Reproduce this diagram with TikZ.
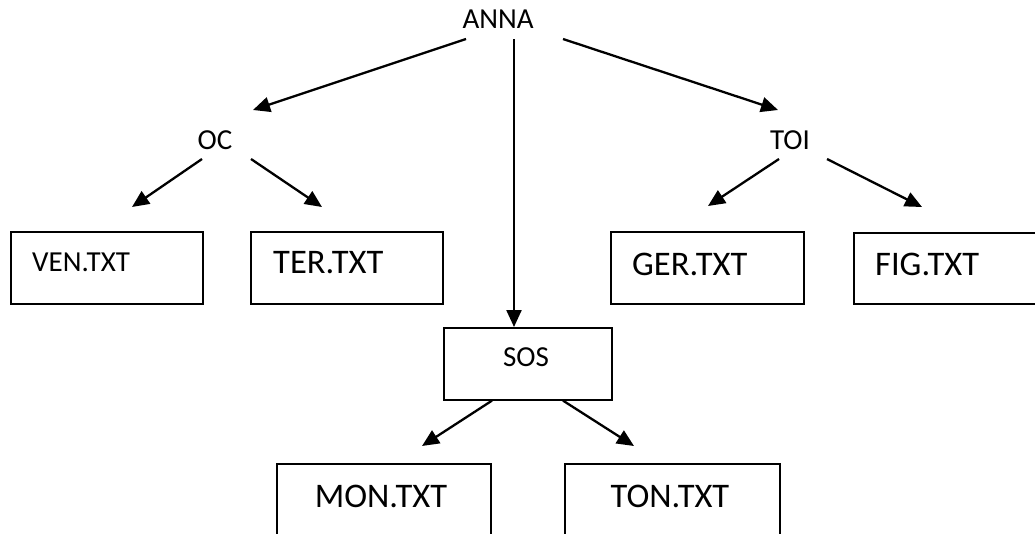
\documentclass[tikz,border=0pt]{standalone}
\usepackage{fontspec}
\setmainfont{Carlito}
\usetikzlibrary{arrows.meta}
\tikzset{
  box/.style={draw=black, line width=1.6pt, rectangle, anchor=north west, inner sep=0pt},
  lbl/.style={inner sep=0pt, text=black},
  big/.style={lbl, font=\fontsize{34.5}{40}\selectfont},
  small/.style={lbl, font=\fontsize{29}{35}\selectfont},
  arr/.style={line width=2.3pt, -{Triangle[length=17pt,width=15pt]}},
}
\begin{document}
\begin{tikzpicture}[x=1pt,y=-1pt]
\clip (0,0) rectangle (1035,533);
\fill[white] (0,0) rectangle (1035,533);
% labels
\node[small] (anna) at (498,19) {ANNA};
\node[small] (oc) at (215,140) {OC};
\node[small] (toi) at (790,140) {TOI};
% boxes
\node[box, minimum width=192pt, minimum height=72pt] (ven) at (10,231) {};
\node[box, minimum width=192pt, minimum height=72pt] (ter) at (250,231) {};
\node[box, minimum width=193pt, minimum height=72pt] (ger) at (610,231) {};
\node[box, minimum width=220pt, minimum height=71pt] (fig) at (853,232) {};
\node[box, minimum width=168pt, minimum height=72pt] (sos) at (443,327) {};
\node[box, minimum width=214pt, minimum height=110pt] (mon) at (276,463) {};
\node[box, minimum width=215pt, minimum height=110pt] (ton) at (564,463) {};
% box texts
\node[small, anchor=west] (ventxt) at ([shift={(22,31)}]ven.north west) {VEN.TXT};
\node[big, anchor=west] (tertxt) at ([shift={(23,32)}]ter.north west) {TER.TXT};
\node[big, anchor=west] (gertxt) at ([shift={(22,33)}]ger.north west) {GER.TXT};
\node[big, anchor=west] (figtxt) at ([shift={(22,32)}]fig.north west) {FIG.TXT};
\node[small] (sostxt) at ([shift={(83,30)}]sos.north west) {SOS};
\node[big] (montxt) at ([shift={(105,33)}]mon.north west) {MON.TXT};
\node[big] (tontxt) at ([shift={(106,33)}]ton.north west) {TON.TXT};
% connectors
\draw[arr] ([shift={(-32,20)}]anna.center) -- ([shift={(38,-30)}]oc.center);
\draw[arr] ([shift={(16,20)}]anna.center) -- ([shift={(71,0)}]sos.north west);
\draw[arr] ([shift={(65,20)}]anna.center) -- ([shift={(-12,-30)}]toi.center);
\draw[arr] ([shift={(-13,19)}]oc.center) -- ([shift={(122,-24)}]ven.north west);
\draw[arr] ([shift={(36,19)}]oc.center) -- ([shift={(72,-24)}]ter.north west);
\draw[arr] ([shift={(-11,19)}]toi.center) -- ([shift={(98,-25)}]ger.north west);
\draw[arr] ([shift={(37,19)}]toi.center) -- ([shift={(69,-25)}]fig.north west);
\draw[arr] ([shift={(49,0)}]sos.south west) -- ([shift={(146,-17)}]mon.north west);
\draw[arr] ([shift={(120,0)}]sos.south west) -- ([shift={(70,-17)}]ton.north west);
\end{tikzpicture}
\end{document}
